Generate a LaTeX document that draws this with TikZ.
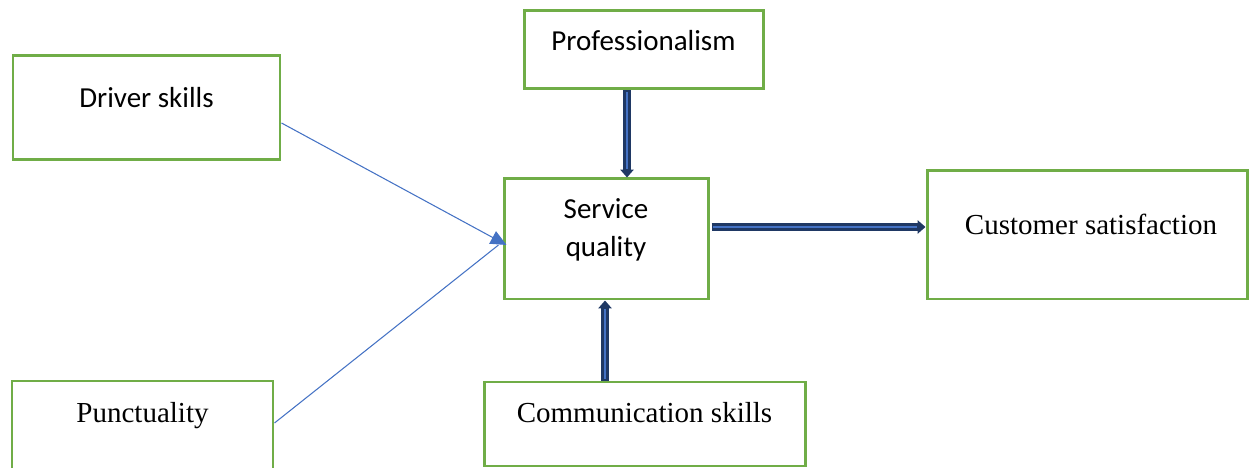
\documentclass[tikz,border=0pt]{standalone}
\usepackage{fontspec}
\setmainfont{Liberation Serif}
\newfontfamily\calibri{Carlito}
\usetikzlibrary{arrows.meta}

\definecolor{boxgreen}{HTML}{70AD47}
\definecolor{linkblue}{HTML}{4472C4}
\definecolor{navy}{HTML}{1F3864}

\begin{document}
\begin{tikzpicture}[
  box/.style={draw=boxgreen,line width=1.7pt,inner sep=0pt},
  txt/.style={font=\fontsize{16.5}{21.5}\selectfont,align=center,inner sep=0pt},
  ctxt/.style={txt,font=\calibri\fontsize{16.5}{21.5}\selectfont},
  link/.style={draw=linkblue,line width=0.6pt},
  blockarrow/.style={draw=navy,line width=4.4pt,-{Triangle[length=4.5pt,width=7.5pt]},
    postaction={draw=linkblue,line width=1.6pt,shorten >=5pt,shorten <=1pt,-}}
  ]
  \useasboundingbox (0,0) rectangle (24.98,9.36);

  % boxes
  \node[box,minimum width=5.34cm,minimum height=2.08cm] (driver) at (2.93,7.20) {};
  \node[box,minimum width=5.22cm,minimum height=1.98cm] (punct) at (2.85,0.75) {};
  \node[box,minimum width=4.78cm,minimum height=1.56cm] (prof) at (12.87,8.36) {};
  \node[box,minimum width=4.08cm,minimum height=2.40cm] (service) at (12.12,4.58) {};
  \node[box,minimum width=6.40cm,minimum height=2.56cm] (customer) at (21.74,4.66) {};
  \node[box,minimum width=6.42cm,minimum height=1.68cm] (comm) at (12.89,0.88) {};

  % labels
  \node[ctxt] (driver-txt) at ([yshift=2mm]driver.center) {Driver skills};
  \node[txt] (punct-txt) at ([yshift=2.9mm]punct.center) {Punctuality};
  \node[ctxt] (prof-txt) at ([yshift=1.8mm]prof.center) {Professionalism};
  \node[ctxt] (service-txt) at ([yshift=1.8mm]service.center) {Service\\quality};
  \node[txt] (customer-txt) at ([xshift=0.8mm,yshift=2.2mm]customer.center) {Customer satisfaction};
  \node[txt] (comm-txt) at ([yshift=2.2mm]comm.center) {Communication skills};

  % thin links into service quality
  \coordinate (tip) at ([xshift=0.8mm,yshift=-1.2mm]service.west);
  \draw[link,-{Triangle[length=9pt,width=8pt]}] ([yshift=-3mm]driver.east) -- (tip);
  \draw[link] ([yshift=1.5mm]punct.east) -- ([xshift=-1.6mm]tip);

  % block arrows
  \draw[blockarrow] ([xshift=-3.3mm]prof.south) -- ([xshift=-3.3mm]prof.south |- service.north);
  \draw[blockarrow] ([xshift=0.4mm,yshift=2.4mm]service.east) -- ([yshift=2.4mm]service.east -| customer.west);
  \draw[blockarrow] ([xshift=-7.9mm]comm.north) -- ([xshift=-7.9mm]comm.north |- service.south);
\end{tikzpicture}
\end{document}
